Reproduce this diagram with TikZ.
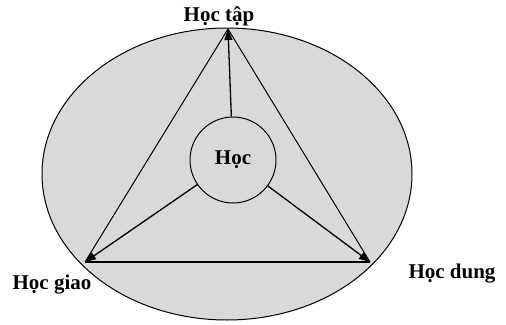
\documentclass[tikz,border=0pt]{standalone}
\usepackage{fontspec}
\setmainfont{Liberation Serif}
\usepackage{tikz}
\usetikzlibrary{arrows.meta}

\begin{document}
\begin{tikzpicture}[x=1pt, y=-1pt,
    every node/.style={font=\bfseries\fontsize{21}{24}\selectfont},
    edge/.style={line width=1pt},
    arrow/.style={line width=1.3pt, -{Triangle[length=11pt, width=8pt]}},
    hub/.style={draw, circle, line width=1pt, minimum size=86pt, inner sep=0pt},
]
\useasboundingbox (0,0) rectangle (506,324);

% Outer ellipse
\draw[line width=1pt, fill=black!15] (227,174) ellipse [x radius=185, y radius=146];

% Triangle corners
\coordinate (study) at (228,29);
\coordinate (give) at (85,262);
\coordinate (use) at (370,262);
\draw[edge] (study) -- (give);
\draw[edge] (study) -- (use);
\draw[line width=1.4pt] (give) -- (use);

% Centre
\node[hub] (learn) at (233,160) {Học};

% Labels
\node (studylbl) at (219,16) {Học tập};
\node (givelbl) at (52,285) {Học giao};
\node (uselbl) at (452,274) {Học dung};

% Arrows
\draw[arrow] (learn) -- (study);
\draw[arrow] (learn) -- (give);
\draw[arrow] (learn) -- (use);

\end{tikzpicture}
\end{document}
